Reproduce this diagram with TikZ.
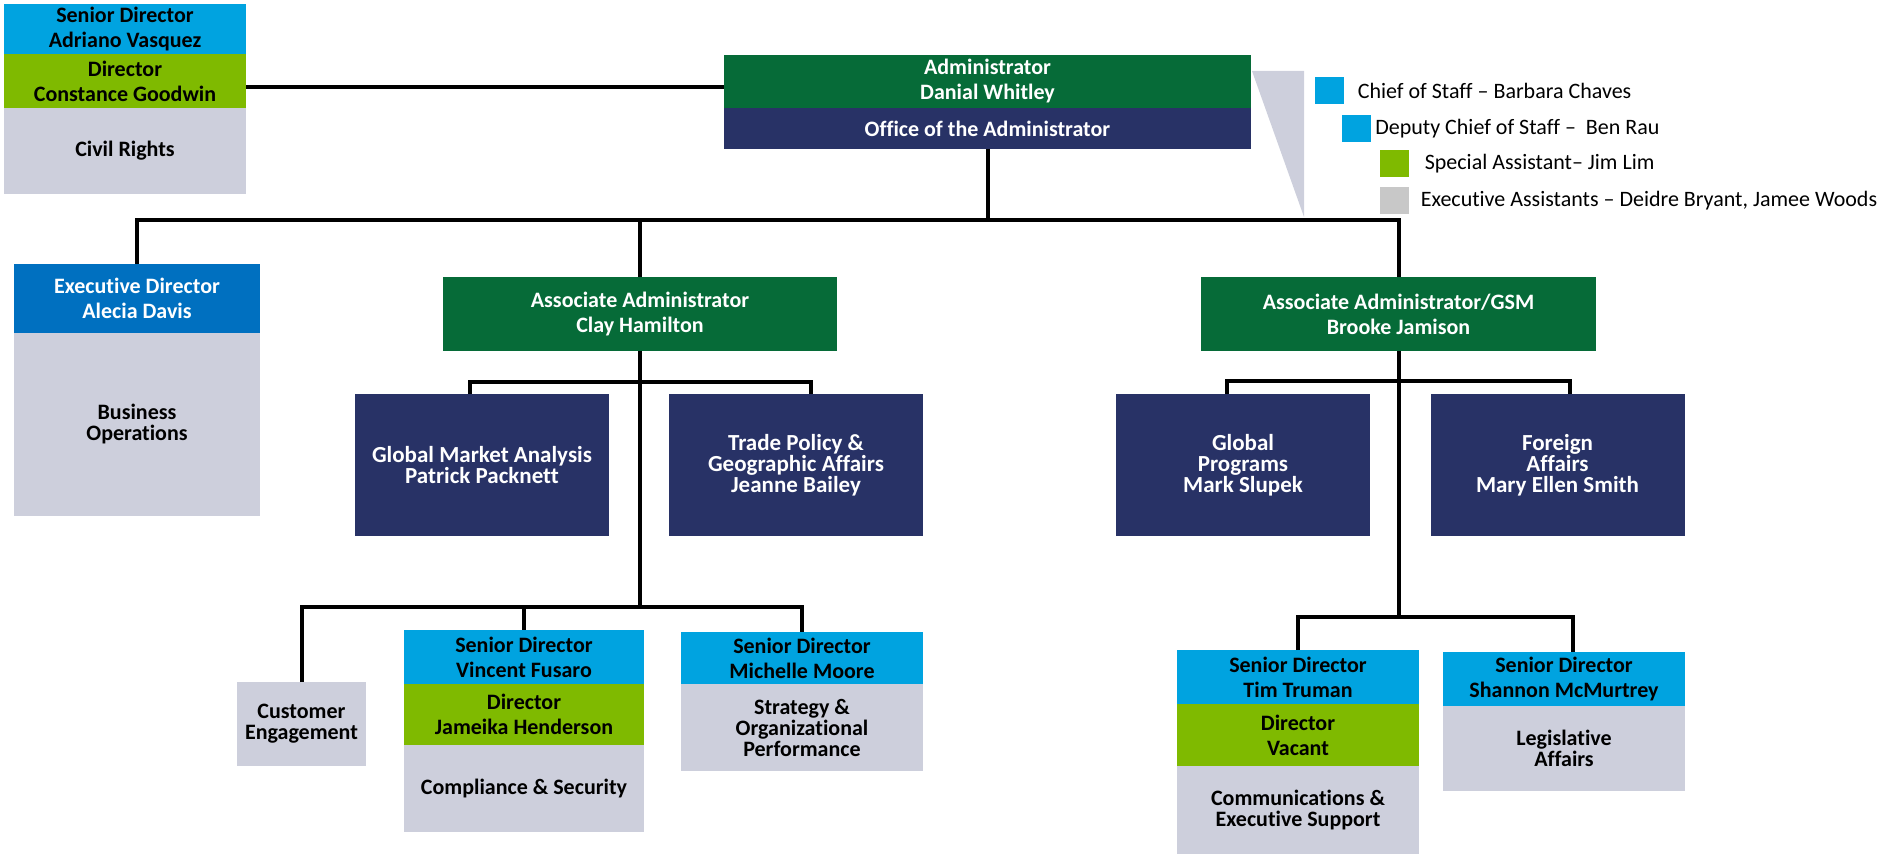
\documentclass[tikz,border=0pt]{standalone}
\usepackage{fontspec}
\setmainfont{Carlito}[Ligatures=NoCommon]
\usetikzlibrary{positioning}
\definecolor{admgreen}{RGB}{6,107,56}
\definecolor{navy}{RGB}{40,50,102}
\definecolor{skyblue}{RGB}{0,163,224}
\definecolor{execblue}{RGB}{0,112,192}
\definecolor{lime}{RGB}{127,186,0}
\definecolor{lavgray}{RGB}{205,207,220}
\definecolor{keygray}{RGB}{200,200,200}

\begin{document}
\begin{tikzpicture}[x=0.5pt, y=-0.5pt,
  box/.style={inner sep=0pt, outer sep=0pt, align=center, font=\bfseries\fontsize{11}{12.5}\selectfont},
  sz/.style 2 args={minimum width=#1*0.5pt, minimum height=#2*0.5pt},
  dark/.style={box, text=white},
  pale/.style={box, text=black},
  body/.style={pale, fill=lavgray, font=\bfseries\fontsize{11}{10.5}\selectfont},
  office/.style={dark, fill=navy, sz={254}{142}, font=\bfseries\fontsize{11.5}{10.5}\selectfont},
  wire/.style={line width=2pt},
  key/.style={minimum width=14.5pt, minimum height=13.5pt, inner sep=0pt},
  keytxt/.style={inner sep=0pt, font=\fontsize{11}{12}\selectfont}]
\useasboundingbox (0,0) rectangle (1883,854);

% top row
\node[pale, fill=skyblue, sz={242}{50}] (civA) at (125,29) {Senior Director\\Adriano Vasquez};
\node[pale, fill=lime, sz={242}{54}, below=0pt of civA] (civB) {Director\\Constance Goodwin};
\node[body, sz={242}{86}, below=0pt of civB] (civC) {Civil Rights};

\node[dark, fill=admgreen, sz={527}{53}] (adm) at (987.5,81.5) {Administrator\\Danial Whitley};
\node[dark, fill=navy, sz={527}{41}, below=0pt of adm] (office) {Office of the Administrator};

% staff key
\fill[lavgray] (1252,71) -- (1304,71) -- (1304,217) -- cycle;
\node[key, fill=skyblue] (k1) at (1329.5,91) {};
\node[keytxt, right=6.5pt of k1] (t1) {Chief of Staff – Barbara Chaves};
\node[key, fill=skyblue] (k2) at (1356,128.5) {};
\node[keytxt, right=2pt of k2] (t2) {Deputy Chief of Staff –\ \ Ben Rau};
\node[key, fill=lime] (k3) at (1394.5,164) {};
\node[keytxt, right=7.5pt of k3] (t3) {Special Assistant– Jim Lim};
\node[key, fill=keygray] (k4) at (1394.5,200.5) {};
\node[keytxt, right=5.5pt of k4] (t4) {Executive Assistants – Deidre Bryant, Jamee Woods};

% second row
\node[dark, fill=execblue, sz={246}{69}] (execA) at (137,298.5) {Executive Director\\Alecia Davis};
\node[body, sz={246}{183}, below=0pt of execA] (execB) {Business\\Operations};
\node[dark, fill=admgreen, sz={394}{74}] (clay) at (640,314) {Associate Administrator\\Clay Hamilton};
\node[dark, fill=admgreen, sz={395}{74}] (brooke) at (1398.5,314) {Associate Administrator/GSM\\Brooke Jamison};

% offices
\node[office] (gma) at (482,465) {Global Market Analysis\\Patrick Packnett};
\node[office] (trade) at (796,465) {Trade Policy \&\\Geographic Affairs\\Jeanne Bailey};
\node[office] (gprog) at (1243,465) {Global\\Programs\\Mark Slupek};
\node[office] (foreign) at (1557.5,465) {Foreign\\Affairs\\Mary Ellen Smith};

% bottom row
\node[body, sz={129}{84}] (cust) at (301.5,724) {Customer\\Engagement};
\node[pale, fill=skyblue, sz={240}{54}] (vinA) at (524,657) {Senior Director\\Vincent Fusaro};
\node[pale, fill=lime, sz={240}{61}, below=0pt of vinA] (vinB) {Director\\Jameika Henderson};
\node[body, sz={240}{87}, below=0pt of vinB] (vinC) {Compliance \& Security};
\node[pale, fill=skyblue, sz={242}{52}] (micA) at (802,658) {Senior Director\\Michelle Moore};
\node[body, sz={242}{87}, below=0pt of micA] (micB) {Strategy \&\\Organizational\\Performance};

\node[pale, fill=skyblue, sz={242}{54}] (timA) at (1298,677) {Senior Director\\Tim Truman};
\node[pale, fill=lime, sz={242}{62}, below=0pt of timA] (timB) {Director\\Vacant};
\node[body, sz={242}{88}, below=0pt of timB] (timC) {Communications \&\\Executive Support};
\node[pale, fill=skyblue, sz={242}{54}] (shaA) at (1564,679) {Senior Director\\Shannon McMurtrey};
\node[body, sz={242}{85}, below=0pt of shaA] (shaB) {Legislative\\Affairs};

% lines
\draw[wire] ([yshift=-3pt]civB.east) -- ([yshift=-3pt]civB.east -| adm.west);

\coordinate (bus) at (0,220);
\draw[wire] (office.south) -- (office.south |- bus);
\draw[wire] (execA.north) -- (execA.north |- bus) -- (brooke.north |- bus) -- (brooke.north);
\draw[wire] (clay.north) -- (clay.north |- bus);

\coordinate (csub) at (0,382);
\coordinate (clow) at (0,607);
\draw[wire] (clay.south) -- (clay.south |- clow);
\draw[wire] ([xshift=-6pt]gma.north) |- ([xshift=7.5pt]csub -| trade.north) -- ([xshift=7.5pt]trade.north);
\draw[wire] (cust.north) -- (cust.north |- clow) -- (micA.north |- clow) -- (micA.north);
\draw[wire] (vinA.north) -- (vinA.north |- clow);

\coordinate (bsub) at (0,381);
\coordinate (blow) at (0,617);
\draw[wire] (brooke.south) -- (brooke.south |- blow);
\draw[wire] ([xshift=-8pt]gprog.north) |- ([xshift=6pt]bsub -| foreign.north) -- ([xshift=6pt]foreign.north);
\draw[wire] (timA.north) |- ([xshift=4.5pt]blow -| shaA.north) -- ([xshift=4.5pt]shaA.north);
\end{tikzpicture}
\end{document}
